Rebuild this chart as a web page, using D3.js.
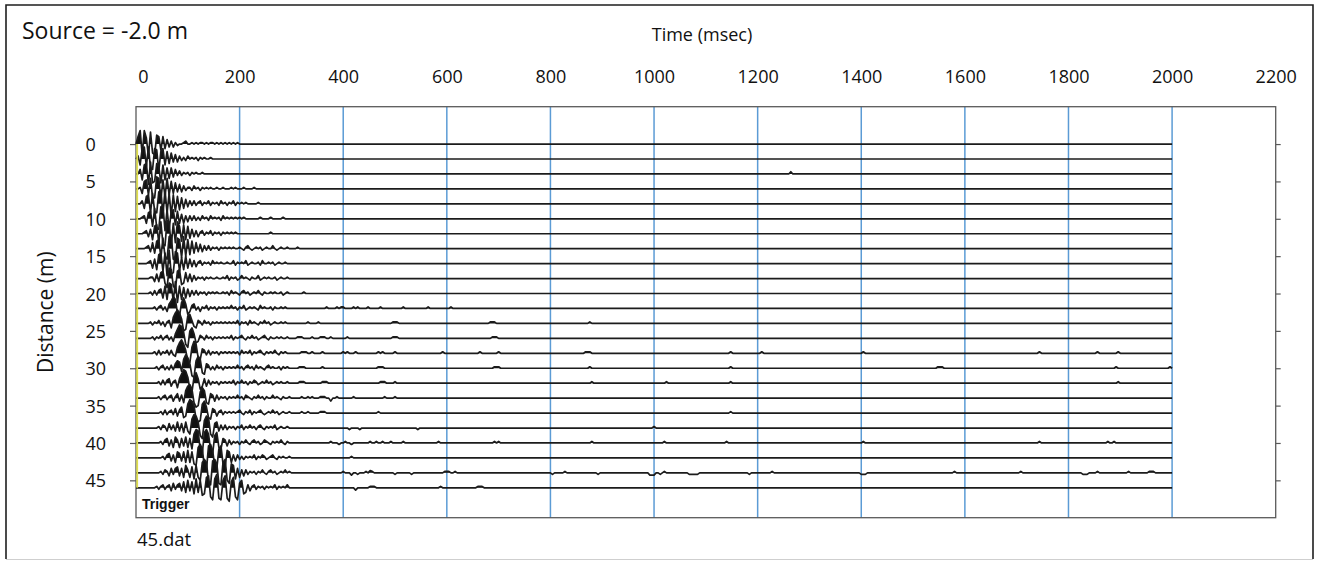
<!DOCTYPE html>
<html>
<head>
<meta charset="utf-8">
<script src="https://cdn.jsdelivr.net/npm/d3@7"></script>
<style>
  html, body { margin: 0; padding: 0; background: #fff; }
  svg text { font-family: "Open Sans", "DejaVu Sans", sans-serif; fill: #111; }
</style>
</head>
<body>
<svg id="chart" width="1323" height="561"></svg>
<script>
// ---- Shot record 45.dat : 24 geophones, 2 m spacing, source at -2.0 m ----
const timeTicks = [0, 200, 400, 600, 800, 1000, 1200, 1400, 1600, 1800, 2000, 2200];
const distanceTicks = [0, 5, 10, 15, 20, 25, 30, 35, 40, 45];
const traceDistances = [0, 2, 4, 6, 8, 10, 12, 14, 16, 18, 20, 22, 24, 26, 28, 30, 32, 34, 36, 38, 40, 42, 44, 46];

// Trace amplitudes, one sample every 4 ms from time zero (positive = up)
const traceSamples = [
  [0,5,9,-7,9,4,-8,8,-6,-7,6,5,-4,5,-3,3,-2,2,-2,1,-1,0,0,1,2,0,0,1,0,1,0,1,1,0,1,0,1,1,0,1,0,1,0,1,0,1,0,1,0,1,0,0],
  [0,2,-4,7,8,-5,8,-6,-7,7,6,-8,5,7,-4,5,-3,4,-2,3,-2,2,-1,1,-1,2,0,1,0,1,-1,1,0,1,0,0,1,0,0],
  [0,0,3,-4,6,7,-7,8,-6,-5,7,5,-6,6,-4,4,-3,4,-2,3,-1,2,-1,1,0,1,-1,1,0,1,0,0,1,0,0],
  [0,0,1,-3,5,6,-4,7,-6,-6,8,7,-7,6,-5,7,-4,5,-3,4,-2,3,-2,2,-1,1,1,-1,2,0,1,-1,1,0,1,0,1,0,0,1,0,0,1,0,0,0,1,0,1,0],
  [0,0,0,2,-3,5,6,-6,7,-5,-6,8,9,-7,9,-6,7,-8,6,-5,5,-4,4,-3,3,-2,2,-1,2,-1,1,2,-1,1,0,2,-1,1,0,1,-1,2,0,1,-1,1,0,2,-1,1,0,1,0,1,0],
  [0,0,0,1,2,-3,4,5,-5,7,-6,-7,8,9,-8,6,-7,5,6,-4,5,-3,3,-3,2,-2,2,-1,2,-1,1,-1,2,0,1,-1,2,0,1,0,1,-1,2,0,1,0,1,0,1,0,1,0,1,0],
  [0,0,0,0,1,2,-2,3,-4,5,6,-6,8,-7,-8,9,7,-8,7,-6,8,5,-5,6,-4,5,-3,3,-2,2,-2,1,2,-1,1,0,2,-1,1,0,1,-1,1,0,1,0,1,0,1,0],
  [0,0,0,0,0,1,2,-2,4,-3,5,6,-6,7,-5,-7,8,9,-7,-8,7,6,-6,8,-5,6,-4,5,-3,4,-2,3,-2,2,-1,2,-1,1,0,1,-1,1,0,1,0,1,0,1,0,0,
   1,0,-1,1,2,0,-1,0,1,0,1,-1,0,1,0,0,2,0,-1,0,1,0,0,1,0,0],
  [0,0,0,0,0,0,1,2,-3,3,-4,6,7,-5,7,-8,9,-7,-6,8,7,-5,4,-4,5,-3,3,-2,2,-2,1,2,-1,1,0,1,-1,2,0,1,0,1,0,0,1,0,0,
   2,-1,1,0,1,0,2,-1,0,1,0,0,1,-1,2,0,0,1,0,1,-1,0,1,0,0,1,0,0,0],
  [0,0,0,0,0,0,0,1,1,-2,3,-2,4,5,-3,-6,7,6,-5,-7,5,6,-4,-3,4,-2,3,-2,2,-1,1,0,1,-1,1,0,1,0,0,1,0,0,1,0,
   2,-1,1,0,1,-1,0,2,0,1,0,-1,1,0,0,2,-1,0,1,0,1,0,0,1,-1,0,1,0,0,1,0],
  [0,0,0,0,0,0,0,1,-1,2,-1,2,3,-3,5,-4,7,6,-5,8,-6,5,-4,4,-3,3,-2,2,-1,2,-1,1,0,1,-1,1,0,1,0,1,0,0,1,0,
   1,-1,2,0,1,0,-1,1,2,0,1,-1,0,1,0,2,0,-1,1,0,0,1,0,1,0,0,1,-1,0,1,0],
  [0,0,0,0,0,0,0,0,0,1,-1,1,2,-1,1,-2,3,5,8,6,-3,-5,4,7,3,-4,-2,2,3,-1,1,-2,1,0,2,-1,1,0,1,-1,1,0,1,0,1,0,
   2,0,1,-1,1,0,2,-1,0,1,0,1,0,-1,2,0,1,0,0,1,-1,1,0,0,1,0,1,0,0],
  [0,0,0,0,0,0,0,1,-1,1,0,2,-1,1,-2,1,2,-3,4,7,9,7,3,-5,-4,5,6,2,-2,-3,2,1,-1,2,0,1,-1,1,0,1,0,1,0,1,0,1,0,
   1,0,2,-1,1,0,1,-1,2,0,1,0,-1,1,0,2,0,1,-1,0,1,0,0,1,0,1,0,0],
  [0,0,0,0,0,0,0,0,1,-1,1,0,2,-1,1,2,-1,1,-2,3,6,9,8,4,-4,-6,5,7,3,-3,-2,2,1,-1,2,0,1,-1,1,0,1,0,1,0,1,0,
   2,-1,1,0,1,2,0,-1,1,0,2,0,1,-1,0,1,2,0,-1,1,0,0,1,0,1,0,0,1,0],
  [0,0,0,0,0,0,0,0,0,1,-1,2,-1,1,0,2,-1,2,-1,-2,4,7,9,6,2,-5,-6,4,8,6,-3,-4,3,2,-1,2,-1,1,0,1,-1,1,0,1,0,1,0,1,0,
   1,-1,2,0,1,0,2,-1,1,0,1,2,0,-1,1,0,1,0,2,0,-1,1,0,1,0,0],
  [0,0,0,0,0,0,0,0,0,0,1,-1,1,2,-1,1,-1,2,-1,3,5,4,-2,6,9,7,3,-5,-6,5,8,6,-3,-4,3,2,-1,1,-1,2,0,1,-1,1,0,1,0,1,0,
   2,0,1,-1,1,2,0,1,-1,2,0,1,0,-1,1,2,0,1,0,0,1,-1,1,0,1,0],
  [0,0,0,0,0,0,0,0,0,0,0,1,-1,2,-1,2,3,-2,1,2,-3,3,6,9,8,4,-4,-6,4,7,3,-4,-2,3,-2,2,-1,1,0,1,-1,1,0,1,0,1,0,
   2,-1,1,0,2,0,1,-1,1,0,2,1,-1,0,1,0,2,0,1,-1,0,1,0,1,0,0,1,0],
  [0,0,0,0,0,0,0,0,0,0,0,1,-1,1,2,-1,1,2,-2,1,3,-2,2,-3,5,8,9,6,-3,-6,-5,4,7,5,-3,-4,3,2,-2,2,-1,1,0,1,-1,1,0,1,0,
   2,0,1,-1,2,1,0,-1,1,0,2,0,1,-1,1,0,0,2,0,1,0,-1,1,0,0,1],
  [0,0,0,0,0,0,0,0,0,0,0,0,1,-1,2,-1,1,2,-1,3,-2,2,4,-3,-2,6,9,8,5,-4,-6,-5,6,8,4,-3,-4,3,2,-2,1,2,-1,1,0,1,0,1,0,
   1,2,0,-1,1,0,2,-1,1,0,1,2,0,-1,0,1,0,2,0,1,-1,0,1,0,0,1],
  [0,0,0,0,0,0,0,0,0,0,0,1,-1,2,1,-2,3,-1,2,-2,4,-2,3,-3,4,-2,-4,6,9,8,4,-5,-7,5,8,7,-4,-6,3,4,-2,2,-1,2,-1,1,0,1,-1,1,0,
   2,-1,1,0,2,0,1,-1,1,2,0,-1,1,0,1,0,2,-1,0,1,0,0,1,0],
  [0,0,0,0,0,0,0,0,0,0,0,0,1,-1,2,3,-2,2,-3,4,2,-3,3,-2,4,-3,3,-4,6,9,8,-5,-7,7,9,6,-5,-7,5,7,-3,-4,3,2,-2,2,-1,1,0,1,-1,1,0,
   2,0,-1,1,2,0,1,-1,0,2,1,0,-1,1,0,1,0,2,0,-1,1],
  [0,0,0,0,0,0,0,0,0,0,0,0,0,1,-1,2,3,-2,2,-3,4,3,-2,4,-3,5,-3,4,-4,-5,7,9,6,-6,-8,8,9,5,-6,-7,6,8,-4,-6,5,4,-3,2,-2,2,-1,1,-1,1,0,1,0,
   2,-1,1,0,2,1,-1,0,1,2,0,-1,1,0,1,0,0,1],
  [0,0,0,0,0,0,0,0,0,0,0,0,1,-1,2,1,-2,3,-1,3,4,-2,3,-3,5,2,-3,4,-4,5,-3,-5,7,9,7,-6,-8,8,9,6,-7,-8,7,9,-5,-7,6,5,-4,3,-3,2,-2,2,-1,1,0,1,-1,1,0,
   2,0,-1,1,2,0,1,-1,0,1,0,2,0,1],
  [0,0,0,0,0,0,0,0,0,0,1,-1,1,2,-1,1,2,-2,3,-1,2,3,-2,4,-3,5,-2,4,-4,6,-3,5,-5,-4,7,8,-6,-8,6,9,-7,-8,5,8,-7,-9,4,7,-6,-8,3,5,-4,-3,2,-2,1,2,-1,1,0,1,-1,1,0,1,0,
   2,-1,1,0,1,0,2,0]
];

// Isolated late bursts: [distance (m), time (ms), amplitude, half width in samples]
const noiseBursts = [
  [4,1263,1.5,0],
  [6,206,1,0],[6,226,1,0],
  [8,234,1,0],
  [10,240,1,0],[10,259,1,0],[10,282,1,0],
  [12,259,1,0],
  [14,311,1,0],
  [20,324,1,0],
  [22,369,1,0],[22,388,1,0],[22,394,1,0],[22,398,1,0],[22,419,1,0],[22,427,1,0],[22,446,1,0],[22,471,1,0],[22,514,1,0],[22,564,1,0],[22,606,1,0],
  [24,332,1,0],[24,351,1,0],[24,500,1,1],[24,689,1,1],[24,875,1,0],
  [26,317,1,1],[26,340,1,0],[26,359,1,1],[26,375,1,0],[26,407,1,0],[26,500,1,1],[26,693,1,1],
  [28,322,1,1],[28,340,1,0],[28,359,1,0],[28,398,1,0],[28,407,1,0],[28,425,1,0],[28,467,1,0],[28,475,1,0],[28,500,1,0],[28,593,1,0],[28,664,1,0],[28,699,1,0],[28,872,1,1],[28,1147,1,0],[28,1208,1,0],[28,1402,1,0],[28,1745,1,0],[28,1857,1,0],[28,1896,1,0],
  [30,320,1,1],[30,359,1,0],[30,471,1,1],[30,695,1,1],[30,876,1,0],[30,1147,1,0],[30,1552,1,1],[30,1892,1,0],[30,1996,1,0],
  [32,320,1,1],[32,365,1,1],[32,475,1,1],[32,500,1,0],[32,880,1,0],[32,1025,1,0],[32,1147,1,0],[32,1894,1,0],
  [34,320,1,0],[34,332,1,0],[34,340,1,0],[34,361,1,1],[34,375,-2,0],[34,388,1,0],[34,419,1,0],[34,481,1,0],[34,500,1,0],
  [36,320,1,0],[36,330,1,0],[36,361,1,1],[36,467,1,0],[36,1147,1,0],
  [38,413,-1,0],[38,432,-1,0],[38,542,-1,0],[38,1000,1,0],
  [40,375,1,0],[40,390,-1,0],[40,403,1,0],[40,417,-1,0],[40,452,1,0],[40,465,1,0],[40,477,1,0],[40,490,1,0],[40,514,1,0],[40,583,1,0],[40,693,1,0],[40,699,1,0],[40,880,1,0],[40,1021,1,0],[40,1141,1,0],[40,1402,1,0],[40,1745,1,0],[40,1876,1,0],[40,1888,1,0],
  [42,417,1,0],
  [44,398,1,0],[44,417,-1.5,0],[44,427,-1,0],[44,442,1,0],[44,450,1.5,0],[44,457,1,0],[44,500,-1,0],[44,533,-1,0],[44,600,1,1],[44,615,1,0],[44,803,-1,0],[44,828,1,0],[44,892,-1,0],[44,995,-1.5,1],[44,1012,-1,0],[44,1021,1,0],[44,1075,-1,2],[44,1185,-1,0],[44,1228,1,0],[44,1402,-1,1],[44,1581,1,0],[44,1707,1,0],[44,1830,-1,1],[44,1855,1,0],[44,1915,1,0],[44,1961,1,1],
  [46,423,-1.5,0],[46,455,1,1],[46,587,1,0],[46,664,1,1]
];

const recordLength = 2000;   // ms
const sampleInterval = 4;    // ms
const ampToMetres = 0.2;     // one amplitude unit in distance-axis metres
const clipAmp = 9;

// ---- layout ----
const svg = d3.select("#chart");
const plot = { left: 136, top: 106.7, right: 1275.7, bottom: 517.7 };

const x = d3.scaleLinear().domain([0, 2200]).range([plot.left, plot.right]);
const y = d3.scaleLinear().domain([-5, 50]).range([plot.top, plot.bottom]);

// chart frame
svg.append("rect").attr("x", 0).attr("y", 0).attr("width", 1323).attr("height", 561).attr("fill", "#fff");
svg.append("path")
  .attr("d", "M6,559 L6,5 L1313,5 L1313,559")
  .attr("fill", "none").attr("stroke", "#1e1e1e").attr("stroke-width", 1.6);
svg.append("line").attr("x1", 6).attr("x2", 1313).attr("y1", 559.5).attr("y2", 559.5)
  .attr("stroke", "#cfcfcf").attr("stroke-width", 1);

// titles
svg.append("text").attr("x", 22).attr("y", 39).style("font-size", "23px").text("Source = -2.0 m");
svg.append("text").attr("x", 702).attr("y", 41).attr("text-anchor", "middle").style("font-size", "18px").text("Time (msec)");
svg.append("text")
  .attr("transform", `translate(53,${(y(0) + y(45)) / 2}) rotate(-90)`)
  .attr("text-anchor", "middle").style("font-size", "21px").text("Distance (m)");
svg.append("text").attr("x", 137).attr("y", 546).style("font-size", "18.5px").text("45.dat");

// top time axis labels (no tick marks)
const xAxis = d3.axisTop(x).tickValues(timeTicks).tickFormat(d3.format("d")).tickSize(0).tickPadding(0);
const gx = svg.append("g").attr("transform", "translate(0,83)").call(xAxis);
gx.select(".domain").remove();
gx.selectAll("text")
  .attr("dy", 0)
  .style("font-family", '"Open Sans", sans-serif').style("font-size", "18px").attr("fill", "#111")
  .attr("dx", d => d === 0 ? 7 : 0);

// vertical grid lines
svg.append("g").selectAll("line")
  .data(timeTicks.filter(t => t > 0 && t < 2200))
  .join("line")
  .attr("x1", d => x(d)).attr("x2", d => x(d))
  .attr("y1", plot.top).attr("y2", plot.bottom)
  .attr("stroke", "#5b9bd5").attr("stroke-width", 1.5);

// distance axis on the left (labels start-aligned), mirrored ticks on the right
const yLeft = d3.axisLeft(y).tickValues(distanceTicks).tickSize(6);
const gyl = svg.append("g").attr("transform", `translate(${plot.left},0)`).call(yLeft);
gyl.select(".domain").remove();
gyl.selectAll("line").attr("stroke", "#595959").attr("stroke-width", 1.2);
gyl.selectAll("text")
  .attr("x", 85.5 - plot.left).attr("text-anchor", "start").attr("dy", "0.36em")
  .style("font-family", '"Open Sans", sans-serif').style("font-size", "18px").attr("fill", "#111");

const yRight = d3.axisRight(y).tickValues(distanceTicks).tickSize(5).tickFormat("");
const gyr = svg.append("g").attr("transform", `translate(${plot.right},0)`).call(yRight);
gyr.select(".domain").remove();
gyr.selectAll("line").attr("stroke", "#595959").attr("stroke-width", 1.2);

// plot area border
svg.append("rect")
  .attr("x", plot.left).attr("y", plot.top)
  .attr("width", plot.right - plot.left).attr("height", plot.bottom - plot.top)
  .attr("fill", "none").attr("stroke", "#5a5a5a").attr("stroke-width", 1.3);

// ---- wiggle traces ----
const nSamples = recordLength / sampleInterval + 1;
const gTraces = svg.append("g");

traceDistances.forEach((d, k) => {
  const amps = new Array(nSamples).fill(0);
  traceSamples[k].forEach((a, i) => { amps[i] = a; });
  noiseBursts.filter(b => b[0] === d).forEach(([, t, a, hw]) => {
    const c = Math.round(t / sampleInterval);
    for (let j = c - hw; j <= c + hw; j++) if (j >= 0 && j < nSamples) amps[j] = a;
  });

  // samples plus zero crossings so positive lobes fill cleanly
  const pts = [];
  amps.forEach((raw, i) => {
    const a = Math.max(-clipAmp, Math.min(clipAmp, raw));
    const t = i * sampleInterval;
    if (pts.length) {
      const p = pts[pts.length - 1];
      if ((p.a > 0 && a < 0) || (p.a < 0 && a > 0)) {
        const tz = p.t + (t - p.t) * (p.a / (p.a - a));
        pts.push({ t: tz, a: 0 });
      }
    }
    pts.push({ t, a });
  });

  const base = y(d);
  const yOf = a => y(d - a * ampToMetres);

  gTraces.append("path")
    .datum(pts)
    .attr("d", d3.area().x(p => x(p.t)).y0(base).y1(p => yOf(Math.max(0, p.a))))
    .attr("fill", "#111");

  gTraces.append("path")
    .datum(pts)
    .attr("d", d3.line().x(p => x(p.t)).y(p => yOf(p.a)))
    .attr("fill", "none").attr("stroke", "#1c1c1c").attr("stroke-width", 1.7)
    .attr("stroke-linejoin", "round");
});

// trigger line at time zero
svg.append("line")
  .attr("x1", plot.left + 1.2).attr("x2", plot.left + 1.2)
  .attr("y1", y(traceDistances[0])).attr("y2", y(traceDistances[traceDistances.length - 1]))
  .attr("stroke", "#dede4e").attr("stroke-width", 1.8);

// trigger label
svg.append("text").attr("x", 142).attr("y", 509)
  .style("font-family", '"Liberation Sans", Arial, sans-serif')
  .style("font-size", "14px").style("font-weight", "bold").text("Trigger");
</script>
</body>
</html>
